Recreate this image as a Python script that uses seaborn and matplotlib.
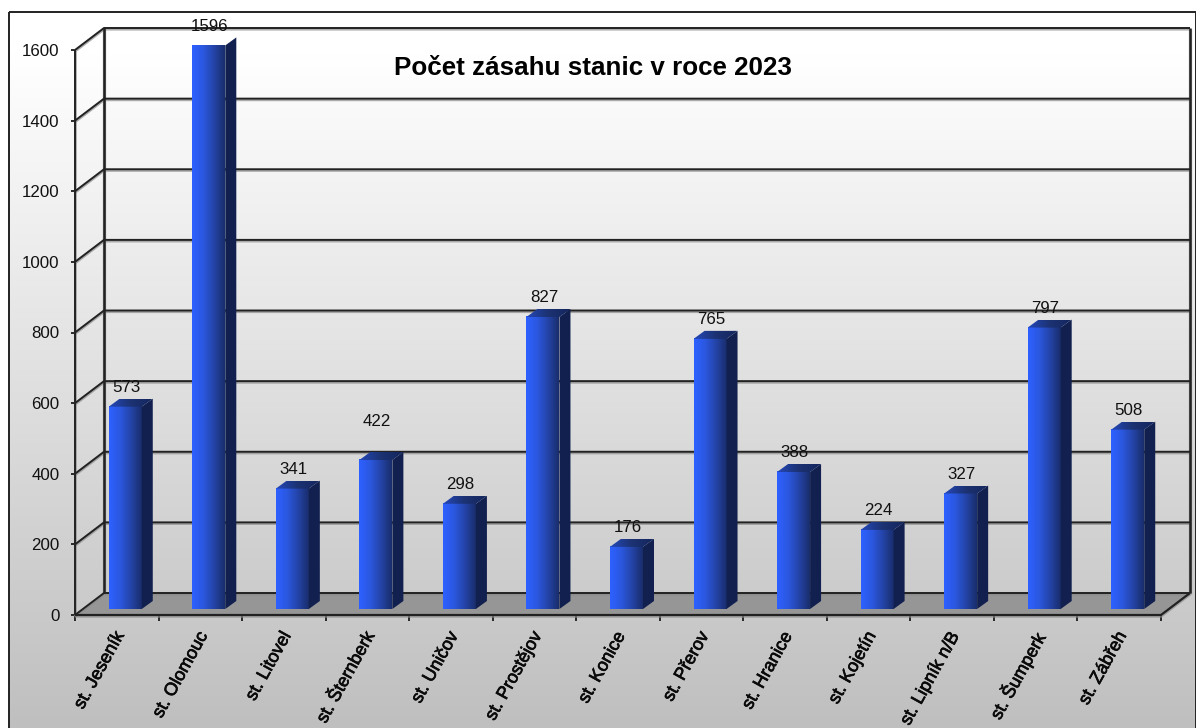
import numpy as np
import matplotlib
matplotlib.use("Agg")
import matplotlib.pyplot as plt
import matplotlib.patheffects as pe
from matplotlib.colors import LinearSegmentedColormap
from matplotlib.patches import Polygon, Rectangle
from matplotlib.ticker import FixedLocator
from matplotlib.transforms import ScaledTranslation
import seaborn as sns

stations = ["st. Jeseník", "st. Olomouc", "st. Litovel", "st. Šternberk", "st. Uničov",
            "st. Prostějov", "st. Konice", "st. Přerov", "st. Hranice", "st. Kojetín",
            "st. Lipník n/B", "st. Šumperk", "st. Zábřeh"]
zasahy = [573, 1596, 341, 422, 298, 827, 176, 765, 388, 224, 327, 797, 508]
y_ticks = [0, 200, 400, 600, 800, 1000, 1200, 1400, 1600]
title = "Počet zásahu stanic v roce 2023"

sns.set_theme(style="white")
plt.rcParams["font.family"] = ["Liberation Sans", "DejaVu Sans"]

W, H = 1196, 728
fig = plt.figure(figsize=(W / 100, H / 100), dpi=100, facecolor="white")

# background panel with the grey gradient
bg = fig.add_axes([0, 0, 1, 1])
bg.axis("off")
grey = LinearSegmentedColormap.from_list("panel", [(0, "#ffffff"), (0.06, "#ffffff"), (1, "#bfbfbf")])
bg.imshow(np.linspace(0, 1, 256)[:, None], extent=(9, W, H, 12), cmap=grey, aspect="auto", zorder=0)
bg.set_xlim(0, W)
bg.set_ylim(H, 0)
bg.add_patch(Rectangle((9, 12), W - 9, H, fill=False, ec="#222222", lw=1.4, zorder=1))

left, right, y0, y1600 = 75, 1161, 615, 50
ax = fig.add_axes([left / W, (H - y0) / H, (right - left) / W, (y0 - y1600) / H])
ax.patch.set_alpha(0)

sns.barplot(x=stations, y=zasahy, color="#2b5cf0", width=0.395, saturation=1, ax=ax, zorder=3)

# px to data units
ux = (right - left) / 13
uy = (y0 - y1600) / 1600
wall_dx, wall_dy = 29 / ux, 22 / uy
bar_dx, bar_dy = 8.5 / ux, 6 / uy
side_dx, side_dy = 11 / ux, 8 / uy
xl, xr = -0.5, 12.5

# floor
ax.add_patch(Polygon([(xl, 0), (xr, 0), (xr + wall_dx, wall_dy), (xl + wall_dx, wall_dy)],
                     fc="#969696", ec="none", clip_on=False, zorder=1))


def line(xs, ys, lw=1.4, z=2):
    ys_low = [v - 1.2 / uy for v in ys]
    ax.plot(xs, ys_low, color="#8c8c8c", lw=lw + 0.6, alpha=0.7, clip_on=False, zorder=z - 0.1,
            solid_capstyle="butt")
    ax.plot(xs, ys, color="#222222", lw=lw, clip_on=False, zorder=z, solid_capstyle="butt")


for t in y_ticks:
    line([xl, xl + wall_dx, xr + wall_dx], [t, t + wall_dy, t + wall_dy])
line([xl, xl], [0, 1600])
line([xl + wall_dx, xl + wall_dx], [wall_dy, 1600 + wall_dy], lw=1.8)
line([xr + wall_dx, xr + wall_dx], [wall_dy, 1600 + wall_dy], lw=1.8)
line([xl, xr, xr + wall_dx], [0, 0, wall_dy], lw=1.6)

# bars: move back from the front plane, add gradient, side and top faces
front = LinearSegmentedColormap.from_list("front", ["#2d60ff", "#2b58e0", "#2444a8", "#1a2e6c"])
topc = LinearSegmentedColormap.from_list("top", ["#2448b8", "#1c3272", "#14265e"])
for bar, v in zip(list(ax.patches), zasahy):
    x0 = bar.get_x() + bar_dx
    x1 = x0 + bar.get_width()
    bar.set_x(x0)
    bar.set_y(bar_dy)
    bar.set_clip_on(False)
    bar.set_edgecolor("none")
    ax.imshow(np.linspace(0, 1, 64)[None, :], extent=(x0, x1, bar_dy, v + bar_dy),
              cmap=front, aspect="auto", zorder=4, clip_on=False)
    ax.add_patch(Polygon([(x1, bar_dy), (x1 + side_dx, bar_dy + side_dy),
                          (x1 + side_dx, v + bar_dy + side_dy), (x1, v + bar_dy)],
                         fc="#11204f", ec="none", clip_on=False, zorder=4))
    top = Polygon([(x0, v + bar_dy), (x1, v + bar_dy),
                   (x1 + side_dx, v + bar_dy + side_dy), (x0 + side_dx, v + bar_dy + side_dy)],
                  fc="none", ec="none", clip_on=False, zorder=4)
    ax.add_patch(top)
    top_img = ax.imshow(np.linspace(0, 1, 64)[None, :],
                        extent=(x0, x1 + side_dx, v + bar_dy, v + bar_dy + side_dy),
                        cmap=topc, aspect="auto", zorder=4)
    top_img.set_clip_path(top)
    # the label of Šternberk sits higher in the original
    lift = 38 if v == 422 else 19
    ax.text(x0 + bar.get_width() / 2 + 1 / ux, v + bar_dy + lift / uy, str(v),
            ha="center", va="center", fontsize=12.2, color="#111111", clip_on=False, zorder=6)

ax.set_xlim(-0.5, 12.5)
ax.set_ylim(0, 1600)
for s in ax.spines.values():
    s.set_visible(False)
ax.set_xlabel("")
ax.set_ylabel("")
ax.set_yticks(y_ticks)
ax.tick_params(axis="y", left=True, length=3.2, width=1.3, color="#1c1c1c", pad=8,
               labelsize=12.2, labelcolor="#111111")
ax.xaxis.set_minor_locator(FixedLocator(np.arange(-0.5, 13, 1)))
ax.tick_params(axis="x", which="minor", bottom=True, length=4, width=1.3, color="#1c1c1c")
ax.tick_params(axis="x", which="major", bottom=False, pad=5)
ax.set_xticks(range(len(stations)))
ax.set_xticklabels(stations, rotation=61, ha="right", rotation_mode="anchor",
                   fontsize=12.9, color="#0a0a0a")
shift = ScaledTranslation(-4 / 100, 1 / 100, fig.dpi_scale_trans)
for lab in ax.get_xticklabels():
    lab.set_transform(lab.get_transform() + shift)
    lab.set_path_effects([pe.withStroke(linewidth=0.5, foreground="#0a0a0a")])

fig.text(592.5 / W, 1 - 68 / H, title, ha="center", va="center", fontsize=18.7,
         fontweight="bold", color="black")

fig.savefig("out.png", dpi=100)
